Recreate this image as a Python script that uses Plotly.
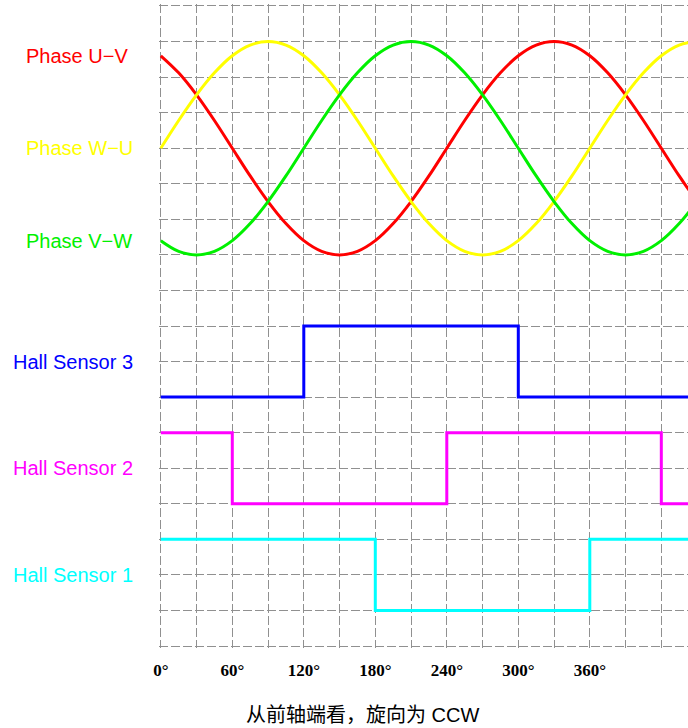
import plotly.graph_objects as go

# ---- data ----
angle = [0, 15, 30, 45, 60, 75, 90, 105, 120, 135, 150, 165, 180, 195, 210, 225,
         240, 255, 270, 285, 300, 315, 330, 345, 360, 375, 390, 405, 420, 435, 450]
phase_uv = [16.60, 16.12, 15.50, 14.78, 14.00, 13.22, 12.50, 11.88, 11.40, 11.10, 11.00,
            11.10, 11.40, 11.88, 12.50, 13.22, 14.00, 14.78, 15.50, 16.12, 16.60, 16.90,
            17.00, 16.90, 16.60, 16.12, 15.50, 14.78, 14.00, 13.22, 12.50]
phase_wu = [14.00, 14.78, 15.50, 16.12, 16.60, 16.90, 17.00, 16.90, 16.60, 16.12, 15.50,
            14.78, 14.00, 13.22, 12.50, 11.88, 11.40, 11.10, 11.00, 11.10, 11.40, 11.88,
            12.50, 13.22, 14.00, 14.78, 15.50, 16.12, 16.60, 16.90, 17.00]
phase_vw = [11.40, 11.10, 11.00, 11.10, 11.40, 11.88, 12.50, 13.22, 14.00, 14.78, 15.50,
            16.12, 16.60, 16.90, 17.00, 16.90, 16.60, 16.12, 15.50, 14.78, 14.00, 13.22,
            12.50, 11.88, 11.40, 11.10, 11.00, 11.10, 11.40, 11.88, 12.50]

hall3_x = [0, 120, 300, 450]
hall3_y = [7, 9, 7, 7]
hall2_x = [0, 60, 240, 420, 450]
hall2_y = [6, 4, 6, 4, 4]
hall1_x = [0, 180, 360, 450]
hall1_y = [3, 1, 3, 3]

tick_vals = [0, 30, 60, 90, 120, 150, 180, 210, 240, 270, 300, 330, 360, 390, 420]
tick_text = ["0°", "", "60°", "", "120°", "", "180°", "", "240°", "", "300°", "", "360°", "", ""]

labels = [
    ("Phase U−V", 16.6, "#ff0000", 24),
    ("Phase W−U", 14.0, "#ffff00", 24),
    ("Phase V−W", 11.4, "#00f000", 24),
    ("Hall Sensor 3", 8.0, "#0000ff", 11),
    ("Hall Sensor 2", 5.0, "#ff00ff", 11),
    ("Hall Sensor 1", 2.0, "#00ffff", 11),
]

# ---- figure ----
W, H = 688, 728
L, R, T, B = 159, 0, 4, 80
pw = W - L - R

fig = go.Figure()
for ys, col in [(phase_uv, "#ff0000"), (phase_wu, "#ffff00"), (phase_vw, "#00f000")]:
    fig.add_trace(go.Scatter(x=angle, y=ys, mode="lines",
                             line=dict(color=col, width=3, shape="spline", smoothing=1.0),
                             showlegend=False, hoverinfo="skip"))
for xs, ys, col in [(hall3_x, hall3_y, "#0000ff"), (hall2_x, hall2_y, "#ff00ff"),
                    (hall1_x, hall1_y, "#00ffff")]:
    fig.add_trace(go.Scatter(x=xs, y=ys, mode="lines",
                             line=dict(color=col, width=3, shape="hv"),
                             showlegend=False, hoverinfo="skip"))

for text, yv, col, px in labels:
    fig.add_annotation(text=text, x=(px - L) / pw, xref="paper", y=yv, yref="y",
                       xanchor="left", yanchor="middle", showarrow=False,
                       font=dict(family="Liberation Sans, Arial, sans-serif", size=20, color=col))

fig.add_annotation(text="从前轴端看，旋向为 CCW", x=(362 - L) / pw, xref="paper",
                   y=(H - 715 - B) / (H - T - B), yref="paper",
                   xanchor="center", yanchor="middle", showarrow=False,
                   font=dict(family="Liberation Sans, Noto Sans CJK SC, sans-serif", size=20,
                             color="#000000"))

fig.update_layout(
    width=W, height=H,
    margin=dict(l=L, r=R, t=T, b=B),
    plot_bgcolor="white", paper_bgcolor="white",
    xaxis=dict(range=[-1.5, 442.4], tickvals=tick_vals, ticktext=tick_text,
               showgrid=True, gridcolor="#909090", gridwidth=1, griddash="9px,3px",
               zeroline=False, showline=False, ticks="",
               tickfont=dict(family="Liberation Serif, Times New Roman, serif", size=17,
                             color="#000000", weight="bold"),
               ticklabelstandoff=10),
    yaxis=dict(range=[-0.056, 18.056], dtick=1, tick0=0, showticklabels=False,
               showgrid=True, gridcolor="#909090", gridwidth=1, griddash="9px,3px",
               zeroline=False, showline=False, ticks=""),
)

fig.write_html("out.html", config={"displayModeBar": False},
               post_script="document.body.style.margin='0';document.body.style.overflow='hidden';")
